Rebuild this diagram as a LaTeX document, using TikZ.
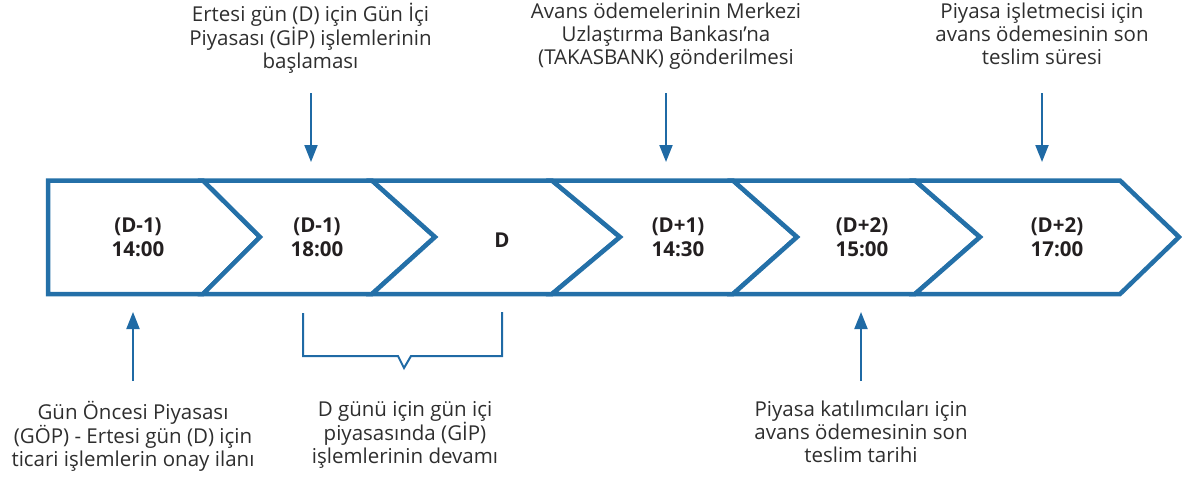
\documentclass[tikz,border=0pt]{standalone}
\usepackage{fontspec}
\setmainfont{Open Sans}
\usetikzlibrary{arrows.meta}
\definecolor{chev}{HTML}{2470A8}
\definecolor{arr}{HTML}{1F6AA5}
\definecolor{txt}{HTML}{2E2E2E}
\definecolor{lbl}{HTML}{231F20}
\tikzset{
  chevron/.style={draw=chev, line width=4.5pt, line join=miter, fill=white},
  note/.style={align=center, inner sep=0pt, text=txt, font=\fontsize{20.5}{23}\selectfont},
  datelbl/.style={align=center, inner sep=0pt, text=lbl, font=\fontsize{20.5}{24}\selectfont\bfseries},
  pointer/.style={draw=arr, line width=2pt, -{Triangle[length=17pt,width=13pt]}},
  bracket/.style={draw=arr, line width=2pt, line join=miter}
}
\begin{document}
\begin{tikzpicture}[x=1pt,y=-1pt]
\useasboundingbox (0,0) rectangle (1182,477);
% chevrons
\draw[chevron] (48,180.5) -- (203,180.5) -- (260,237) -- (203,294) -- (48,294) -- cycle;
\draw[chevron] (203,180.5) -- (372,180.5) -- (435,237) -- (372,294) -- (203,294) -- (260,237) -- cycle;
\draw[chevron] (372,180.5) -- (552,180.5) -- (620,237) -- (552,294) -- (372,294) -- (435,237) -- cycle;
\draw[chevron] (552,180.5) -- (733,180.5) -- (797,237) -- (733,294) -- (552,294) -- (620,237) -- cycle;
\draw[chevron] (733,180.5) -- (915,180.5) -- (980,237) -- (915,294) -- (733,294) -- (797,237) -- cycle;
\draw[chevron] (915,180.5) -- (1120,180.5) -- (1179,237) -- (1120,294) -- (915,294) -- (980,237) -- cycle;
% labels in chevrons
\node[datelbl] (s1) at (138,237) {(D-1)\\14:00};
\node[datelbl] (s2) at (317,237) {(D-1)\\18:00};
\node[datelbl] (s3) at (502,240) {D};
\node[datelbl] (s4) at (678,237) {(D+1)\\14:30};
\node[datelbl] (s5) at (862,237) {(D+2)\\15:00};
\node[datelbl] (s6) at (1057,237) {(D+2)\\17:00};
% top notes
\node[note, anchor=north] (t1) at (310.5,3) {Ertesi gün (D) için Gün İçi\\Piyasası (GİP) işlemlerinin\\başlaması};
\node[note, anchor=north] (t2) at (666,3) {Avans ödemelerinin Merkezi\\Uzlaştırma Bankası’na\\(TAKASBANK) gönderilmesi};
\node[note, anchor=north] (t3) at (1042,3) {Piyasa işletmecisi için\\avans ödemesinin son\\teslim süresi};
% bottom notes
\node[note, anchor=north] (b1) at (133,401) {Gün Öncesi Piyasası\\(GÖP) - Ertesi gün (D) için\\ticari işlemlerin onay ilanı};
\node[note, anchor=north] (b2) at (405,401) {D günü için gün içi\\piyasasında (GİP)\\işlemlerinin devamı};
\node[note, anchor=north] (b3) at (861,401) {Piyasa katılımcıları için\\avans ödemesinin son\\teslim tarihi};
% arrow ends
\coordinate (t1a) at (311,93);  \coordinate (t1b) at (311,162);
\coordinate (t2a) at (666,93);  \coordinate (t2b) at (666,162);
\coordinate (t3a) at (1042,93); \coordinate (t3b) at (1042,162);
\coordinate (b1a) at (133,381); \coordinate (b1b) at (133,312);
\coordinate (b3a) at (861,381); \coordinate (b3b) at (861,312);
\draw[pointer] (t1a) -- (t1b);
\draw[pointer] (t2a) -- (t2b);
\draw[pointer] (t3a) -- (t3b);
\draw[pointer] (b1a) -- (b1b);
\draw[pointer] (b3a) -- (b3b);
% bracket
\coordinate (brL) at (303,313);
\coordinate (brR) at (502,312);
\draw[bracket] (brL) -- (303,356) -- (398,356) -- (404,368) -- (411,356) -- (502,356) -- (brR);
\end{tikzpicture}
\end{document}
